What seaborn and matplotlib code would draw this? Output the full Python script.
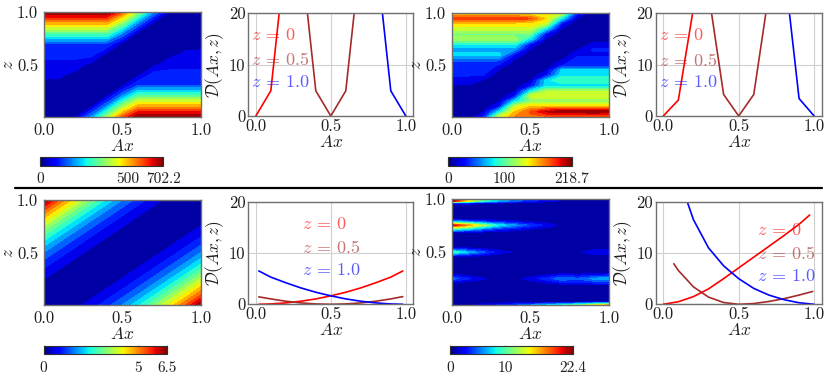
import numpy as np
import matplotlib
matplotlib.use("Agg")
import matplotlib.pyplot as plt
import matplotlib.colors as mcolors
import matplotlib.cm as cm
from matplotlib.lines import Line2D
import seaborn as sns

# ── data ──────────────────────────────────────────────────────────────────────

ax_grid = [0.0, 0.1, 0.2, 0.3, 0.4, 0.5, 0.6, 0.7, 0.8, 0.9, 1.0]

# top-left map (max 702.2), rows z = 0 .. 1 step 0.1
z_map1 = [0.0, 0.1, 0.2, 0.3, 0.4, 0.5, 0.6, 0.7, 0.8, 0.9, 1.0]
map1 = [
    [0, 4.8, 32, 180, 373, 566, 702, 702, 702, 702, 702],
    [4.8, 0, 4.8, 32, 180, 373, 512, 512, 512, 512, 512],
    [25, 4.8, 0, 4.8, 32, 180, 321, 321, 321, 321, 321],
    [35, 32, 4.8, 0, 4.8, 32, 131, 131, 131, 131, 131],
    [50, 50, 32, 4.8, 0, 4.8, 32, 110, 110, 110, 110],
    [65, 65, 65, 32, 4.8, 0, 4.8, 32, 65, 65, 65],
    [110, 110, 110, 110, 32, 4.8, 0, 4.8, 32, 50, 50],
    [131, 131, 131, 131, 131, 32, 4.8, 0, 4.8, 32, 35],
    [321, 321, 321, 321, 321, 180, 32, 4.8, 0, 4.8, 25],
    [512, 512, 512, 512, 512, 373, 180, 32, 4.8, 0, 4.8],
    [702.2, 702, 702, 702, 702, 566, 373, 180, 32, 4.8, 0],
]

# top-right map (max 218.7), rows z = 0 .. 1 step 0.05
z_map3 = [0.0, 0.05, 0.1, 0.15, 0.2, 0.25, 0.3, 0.35, 0.4, 0.45, 0.5,
          0.55, 0.6, 0.65, 0.7, 0.75, 0.8, 0.85, 0.9, 0.95, 1.0]
map3 = [
    [0, 3.5, 27, 130, 165, 175, 175, 175, 175, 175, 175],
    [1.5, 1.5, 12, 75, 150, 180, 207, 215, 215, 218.7, 215],
    [3, 0, 3.5, 27, 130, 150, 150, 150, 150, 150, 150],
    [4, 1.5, 1.5, 12, 75, 110, 110, 110, 110, 110, 110],
    [5, 3.5, 0, 3.5, 27, 130, 135, 135, 135, 135, 135],
    [8, 8, 1.5, 1.5, 12, 75, 120, 120, 120, 120, 120],
    [12, 12, 3.5, 0, 3.5, 27, 75, 75, 75, 75, 75],
    [24, 24, 12, 1.5, 1.5, 12, 75, 95, 95, 95, 95],
    [28, 28, 27, 3.5, 0, 3.5, 27, 80, 80, 80, 80],
    [38, 38, 38, 12, 1.5, 1.5, 12, 70, 70, 70, 70],
    [30, 30, 30, 27, 3.5, 0, 3.5, 27, 30, 30, 30],
    [45, 45, 45, 45, 12, 1.5, 1.5, 12, 35, 35, 35],
    [75, 75, 75, 75, 27, 3.5, 0, 3.5, 24, 24, 24],
    [58, 58, 58, 58, 58, 12, 1.5, 1.5, 12, 30, 30],
    [85, 85, 85, 85, 85, 27, 3.5, 0, 3.5, 18, 18],
    [118, 118, 118, 118, 118, 75, 12, 1.5, 1.5, 8, 8],
    [105, 105, 105, 105, 105, 105, 27, 3.5, 0, 3.5, 5],
    [130, 130, 130, 130, 130, 130, 75, 12, 1.5, 1.5, 4],
    [145, 145, 145, 145, 145, 145, 130, 27, 3.5, 0, 3],
    [190, 190, 190, 190, 190, 180, 150, 75, 12, 1.5, 1.5],
    [140, 140, 140, 140, 140, 140, 140, 130, 27, 3.5, 0],
]

# bottom-left map (max 6.5)
z_map5 = [0.0, 0.1, 0.2, 0.3, 0.4, 0.5, 0.6, 0.7, 0.8, 0.9, 1.0]
map5 = [
    [0, .07, .26, .59, 1.04, 1.63, 2.34, 3.19, 4.16, 5.27, 6.5],
    [.07, 0, .07, .26, .59, 1.04, 1.63, 2.34, 3.19, 4.16, 5.27],
    [.26, .07, 0, .07, .26, .59, 1.04, 1.63, 2.34, 3.19, 4.16],
    [.59, .26, .07, 0, .07, .26, .59, 1.04, 1.63, 2.34, 3.19],
    [1.04, .59, .26, .07, 0, .07, .26, .59, 1.04, 1.63, 2.34],
    [1.63, 1.04, .59, .26, .07, 0, .07, .26, .59, 1.04, 1.63],
    [2.34, 1.63, 1.04, .59, .26, .07, 0, .07, .26, .59, 1.04],
    [3.19, 2.34, 1.63, 1.04, .59, .26, .07, 0, .07, .26, .59],
    [4.16, 3.19, 2.34, 1.63, 1.04, .59, .26, .07, 0, .07, .26],
    [5.27, 4.16, 3.19, 2.34, 1.63, 1.04, .59, .26, .07, 0, .07],
    [6.5, 5.27, 4.16, 3.19, 2.34, 1.63, 1.04, .59, .26, .07, 0],
]

# bottom-right map (max 22.4), streaky rows at irregular z
z_map7 = [0.0, 0.03, 0.18, 0.21, 0.25, 0.29, 0.32, 0.45, 0.5, 0.55,
          0.68, 0.72, 0.755, 0.79, 0.82, 0.94, 0.965, 0.985, 1.0]
map7 = [
    [0.3, 0.8, 2.0, 3.0, 4.0, 5.5, 7.0, 8.5, 10.5, 13.5, 16.0],
    [0, 0, 0.2, 0.3, 0.4, 0.5, 0.6, 0.7, 0.8, 1.0, 1.2],
    [0, 0, 0, 0, 0, 0, 0, 0, 0, 0, 0],
    [1.5, 0.8, 0.3, 0.2, 0.2, 0.5, 1.5, 2.5, 2.5, 3.0, 3.5],
    [5.0, 3.2, 1.6, 0.8, 0.8, 2.2, 3.5, 5.5, 4.5, 6.0, 6.5],
    [1.5, 0.8, 0.3, 0.2, 0.2, 0.4, 1.0, 1.8, 1.5, 2.0, 2.2],
    [0, 0, 0, 0, 0, 0, 0, 0, 0, 0, 0],
    [0, 0, 0, 0, 0, 0, 0, 0, 0, 0, 0],
    [10.0, 7.0, 4.5, 2.2, 1.2, 0.8, 0.5, 0.5, 1.0, 2.6, 2.8],
    [0, 0, 0, 0, 0, 0, 0, 0, 0, 0, 0],
    [0, 0, 0, 0, 0, 0, 0, 0, 0, 0, 0],
    [10, 8, 5.5, 3.5, 2.5, 1.6, 0.8, 0.3, 0.2, 0.1, 0.1],
    [21, 17, 12, 8, 6, 4, 2.5, 0.8, 0.3, 0.2, 0.2],
    [6, 5, 3.5, 2.5, 1.8, 1.2, 0.6, 0.2, 0.1, 0.1, 0.1],
    [0, 0, 0, 0, 0, 0, 0, 0, 0, 0, 0],
    [0, 0, 0, 0, 0, 0, 0, 0, 0, 0, 0],
    [4, 3, 2, 1.5, 1.2, 0.8, 0.5, 0.3, 0.2, 0.1, 0.1],
    [22.4, 15, 10, 7, 5, 3.5, 2.2, 1.2, 0.6, 0.3, 0.3],
    [18, 12, 8, 5.5, 4, 2.8, 1.8, 1.0, 0.5, 0.3, 0.3],
]

# line panels: D(Ax, z) for z = 0, 0.5, 1.0
x_p2 = ax_grid
p2_z0 = [0, 4.9, 32, 180, 373, 566, 702, 702, 702, 702, 702]
p2_z05 = [65, 65, 65, 32, 4.9, 0, 4.9, 32, 65, 65, 65]
p2_z1 = [702, 702, 702, 702, 702, 566, 373, 180, 32, 4.9, 0]

x_p4 = ax_grid
p4_z0 = [0, 3.1, 21, 110, 160, 175, 175, 175, 175, 175, 175]
p4_z05 = [30, 30, 30, 24, 4.2, 0, 4.2, 24, 30, 30, 30]
p4_z1 = [140, 140, 140, 140, 140, 140, 140, 130, 29.5, 3.4, 0]

x_p6 = [0.02, 0.1, 0.2, 0.3, 0.4, 0.5, 0.6, 0.7, 0.8, 0.9, 0.98]
p6_z0 = [0.0, 0.07, 0.27, 0.6, 1.05, 1.65, 2.35, 3.2, 4.2, 5.3, 6.5]
p6_z05 = [1.45, 1.05, 0.6, 0.27, 0.07, 0.0, 0.07, 0.27, 0.6, 1.05, 1.5]
p6_z1 = [6.5, 5.3, 4.2, 3.2, 2.35, 1.65, 1.05, 0.6, 0.27, 0.07, 0.0]

x_p8_z0 = [0, 0.1, 0.2, 0.3, 0.4, 0.5, 0.6, 0.7, 0.8, 0.9, 0.97]
p8_z0 = [0, 0.5, 1.5, 3.0, 5.0, 7.1, 9.2, 11.3, 13.4, 15.6, 17.4]
x_p8_z05 = [0.07, 0.1, 0.2, 0.3, 0.4, 0.5, 0.6, 0.7, 0.8, 0.9, 0.99]
p8_z05 = [7.9, 6.6, 3.4, 1.4, 0.35, 0.0, 0.15, 0.55, 1.1, 1.8, 2.5]
x_p8_z1 = ax_grid
p8_z1 = [34, 25, 16.5, 11, 7.5, 5.0, 3.1, 1.8, 0.9, 0.3, 0]

z_labels = [r"$z\,=\,0$", r"$z\,=\,0.5$", r"$z\,=\,1.0$"]

# ── style ─────────────────────────────────────────────────────────────────────

sns.set_theme(style="whitegrid")
plt.rcParams.update({
    "font.family": "serif",
    "font.serif": ["cmr10", "DejaVu Serif"],
    "mathtext.fontset": "cm",
    "axes.unicode_minus": False,
    "font.size": 12,
    "axes.labelsize": 12.5,
    "xtick.labelsize": 12,
    "ytick.labelsize": 12,
    "axes.edgecolor": "#707070",
    "axes.linewidth": 1.0,
    "grid.color": "#d0d0d0",
    "grid.linewidth": 0.8,
    "text.color": "#202020",
    "xtick.color": "#202020",
    "ytick.color": "#202020",
    "axes.labelcolor": "#202020",
})

LINE_COLORS = ["#ff0000", "#a52a2a", "#0000ff"]

W, H = 830, 384
fig = plt.figure(figsize=(W / 100, H / 100), dpi=100, facecolor="white")


def box(left, top, right, bottom):
    return [left / W, 1 - bottom / H, (right - left) / W, (bottom - top) / H]


def draw_map(rect, cbrect, zs, grid, vmax, cticks, clabels):
    ax = fig.add_axes(box(*rect))
    levels = np.linspace(0, vmax, 17)
    ax.contourf(ax_grid, zs, np.array(grid), levels=levels, cmap="jet",
                vmin=0, vmax=vmax)
    ax.set_xlim(0, 1)
    ax.set_ylim(0, 1)
    ax.set_xticks([0, 0.5, 1])
    ax.set_yticks([0.5, 1])
    ax.grid(False)
    ax.tick_params(length=2, width=0.8, color="#707070", pad=2)
    ax.set_xlabel(r"$Ax$", labelpad=0)
    ax.set_ylabel(r"$z$", labelpad=1)

    cax = fig.add_axes(box(*cbrect))
    sm = cm.ScalarMappable(norm=mcolors.Normalize(0, vmax), cmap="jet")
    cb = fig.colorbar(sm, cax=cax, orientation="horizontal")
    cb.set_ticks(cticks, labels=clabels)
    cb.outline.set_edgecolor("#303030")
    cb.outline.set_linewidth(0.8)
    cax.tick_params(direction="in", length=6.5, width=0.8, color="#909090",
                    pad=5, labelsize=11)


def draw_lines(rect, series, text_x, text_y):
    ax = fig.add_axes(box(*rect))
    for (xs, ys), col in zip(series, LINE_COLORS):
        sns.lineplot(x=xs, y=ys, color=col, lw=1.2, ax=ax, estimator=None,
                     sort=False)
    for label, ty, col in zip(z_labels, text_y, LINE_COLORS):
        ax.text(text_x, ty, label, color=col, alpha=0.65, va="center",
                ha="left", fontsize=13)
    ax.set_xlim(-0.05, 1.05)
    ax.set_ylim(0, 20)
    ax.set_xticks([0, 0.5, 1])
    ax.set_yticks([0, 10, 20])
    ax.tick_params(length=0, pad=2)
    ax.set_xlabel(r"$Ax$", labelpad=0)
    ax.set_ylabel(r"$\mathcal{D}(Ax,z)$", labelpad=2)


draw_map((43.7, 12.3, 201, 116.7), (40.3, 156.7, 163.3, 165.7),
         z_map1, map1, 702.2, [0, 500, 702.2], ["0", "500", "702.2"])
draw_lines((248.3, 13.3, 413.3, 116),
           [(x_p2, p2_z0), (x_p2, p2_z05), (x_p2, p2_z1)],
           -0.03, [15.8, 11.0, 6.7])
draw_map((451.7, 13.3, 609, 116.7), (448.3, 157, 571.7, 165.7),
         z_map3, map3, 218.7, [0, 100, 218.7], ["0", "100", "218.7"])
draw_lines((655.7, 13.3, 821.7, 116),
           [(x_p4, p4_z0), (x_p4, p4_z05), (x_p4, p4_z1)],
           -0.03, [15.8, 10.9, 6.7])

draw_map((43.7, 200, 201, 305), (43.7, 345.7, 166.7, 354),
         z_map5, map5, 6.5, [0, 5, 6.5], ["0", "5", "6.5"])
draw_lines((248.3, 201.7, 413.3, 304.3),
           [(x_p6, p6_z0), (x_p6, p6_z05), (x_p6, p6_z1)],
           0.305, [15.6, 11.1, 6.6])
draw_map((451.7, 199.3, 609, 305), (450, 345.7, 573.3, 354),
         z_map7, map7, 22.4, [0, 10, 22.4], ["0", "10", "22.4"])
draw_lines((655.7, 201.7, 821.7, 304.3),
           [(x_p8_z0, p8_z0), (x_p8_z05, p8_z05), (x_p8_z1, p8_z1)],
           0.62, [14.5, 9.9, 5.5])

# separator between the two rows
fig.add_artist(Line2D([15 / W, 822 / W], [1 - 188 / H] * 2,
                      color="black", lw=1.6))

fig.savefig("out.png", dpi=100, facecolor="white")
